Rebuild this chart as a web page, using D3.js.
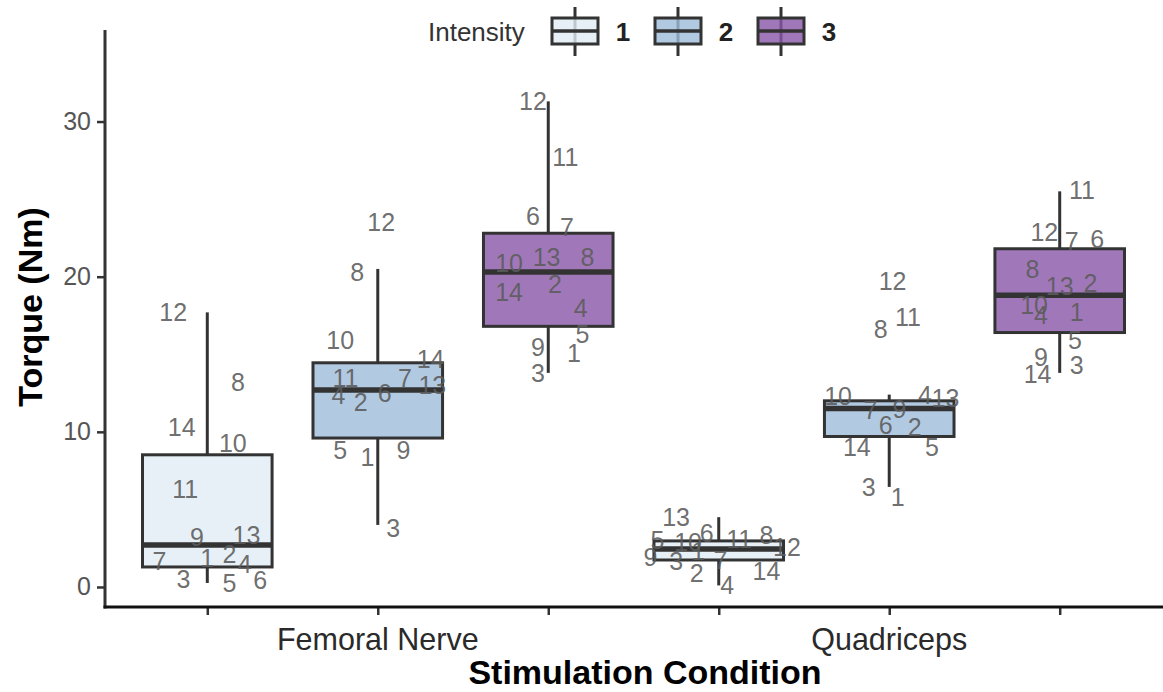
<!DOCTYPE html>
<html>
<head>
<meta charset="utf-8">
<script src="https://cdn.jsdelivr.net/npm/d3@7"></script>
<style>
  html, body { margin: 0; padding: 0; background: #fff; }
  svg { display: block; font-family: "Liberation Sans", Arial, Helvetica, sans-serif; }
</style>
</head>
<body>
<svg id="chart" width="1163" height="692"></svg>
<script>
// ---------- data ----------
const conditions = ["Femoral Nerve", "Quadriceps"];
const intensities = ["1", "2", "3"];
const subjects = ["1","2","3","4","5","6","7","8","9","10","11","12","13","14"];
const yTicks = [0, 10, 20, 30];

// box statistics per group (Femoral Nerve 1..3, Quadriceps 1..3)
const boxLow    = [0.26, 4.0, 13.8, 0.1, 6.45, 13.8];
const boxQ1     = [1.29, 9.6, 16.8, 1.74, 9.7, 16.4];
const boxMedian = [2.71, 12.7, 20.3, 2.45, 11.5, 18.8];
const boxQ3     = [8.52, 14.45, 22.8, 2.97, 12.0, 21.8];
const boxHigh   = [17.7, 20.5, 31.3, 4.5, 12.4, 25.5];

// subject torque values (subjects 1..14)
const femoral1 = [1.9, 2.1, 0.5, 1.5, 0.26, 0.45, 1.7, 13.2, 3.2, 9.3, 6.3, 17.7, 3.35, 10.3];
const femoral2 = [8.4, 11.9, 3.8, 12.4, 8.8, 12.5, 13.5, 20.3, 8.8, 15.9, 13.5, 23.5, 13.0, 14.7];
const femoral3 = [15.1, 19.5, 13.8, 18.0, 16.3, 23.9, 23.2, 21.3, 15.5, 20.9, 27.7, 31.3, 21.3, 19.0];
const quad1    = [2.3, 0.9, 1.7, 0.1, 3.0, 3.5, 1.75, 3.35, 1.95, 2.9, 3.1, 2.6, 4.5, 1.0];
const quad2    = [5.8, 10.3, 6.45, 12.4, 9.0, 10.45, 11.4, 16.6, 11.5, 12.3, 17.4, 19.7, 12.2, 9.0];
const quad3    = [17.7, 19.6, 14.3, 17.5, 15.9, 22.4, 22.3, 20.5, 14.8, 18.2, 25.6, 22.9, 19.4, 13.7];

// horizontal jitter of the subject labels (fraction of category step)
const jitFemoral1 = [0.0, 0.13, -0.14, 0.22, 0.13, 0.31, -0.28, 0.18, -0.06, 0.15, -0.13, -0.2, 0.23, -0.15];
const jitFemoral2 = [-0.06, -0.1, 0.09, -0.23, -0.22, 0.04, 0.16, -0.12, 0.15, -0.22, -0.19, 0.02, 0.32, 0.31];
const jitFemoral3 = [0.15, 0.04, -0.06, 0.19, 0.2, -0.09, 0.11, 0.23, -0.06, -0.23, 0.1, -0.09, -0.01, -0.23];
const jitQuad1    = [-0.12, -0.13, -0.25, 0.05, -0.36, -0.07, 0.01, 0.28, -0.4, -0.18, 0.12, 0.4, -0.25, 0.28];
const jitQuad2    = [0.05, 0.15, -0.12, 0.21, 0.25, -0.02, -0.11, -0.05, 0.06, -0.3, 0.11, 0.02, 0.33, -0.19];
const jitQuad3    = [0.1, 0.18, 0.1, -0.11, 0.09, 0.22, 0.07, -0.16, -0.11, -0.15, 0.13, -0.09, 0.0, -0.13];

const fillColors = ["#e0ecf4", "#9ebcda", "#8856a7"];

// ---------- build ----------
const groupValues = [femoral1, femoral2, femoral3, quad1, quad2, quad3];
const groupJitter = [jitFemoral1, jitFemoral2, jitFemoral3, jitQuad1, jitQuad2, jitQuad3];
const groups = [];
conditions.forEach((c, ci) => intensities.forEach((it, ii) => {
  const gi = ci * 3 + ii;
  groups.push({
    id: c + "|" + it, condition: c, intensity: it, ii,
    low: boxLow[gi], q1: boxQ1[gi], median: boxMedian[gi], q3: boxQ3[gi], high: boxHigh[gi],
    labels: subjects.map((s, si) => ({ s, v: groupValues[gi][si], j: groupJitter[gi][si] }))
  });
}));

const svg = d3.select("#chart");
const pLeft = 105, pRight = 1162, pTop = 30, pBottom = 607;

const x = d3.scalePoint().domain(groups.map(g => g.id)).range([pLeft, pRight]).padding(0.6);
const step = x.step();
const boxW = step * 0.76;
const y = d3.scaleLinear().domain([-1.29, 35.9]).range([pBottom, pTop]);
const color = d3.scaleOrdinal().domain(intensities).range(fillColors);

const lineCol = "#333333";

// boxes
const gBox = svg.append("g");
groups.forEach(g => {
  const cx = x(g.id);
  const gg = gBox.append("g");
  gg.append("line").attr("x1", cx).attr("x2", cx).attr("y1", y(g.q3)).attr("y2", y(g.high))
    .attr("stroke", lineCol).attr("stroke-width", 3);
  gg.append("line").attr("x1", cx).attr("x2", cx).attr("y1", y(g.q1)).attr("y2", y(g.low))
    .attr("stroke", lineCol).attr("stroke-width", 3);
  gg.append("rect").attr("x", cx - boxW / 2).attr("width", boxW)
    .attr("y", y(g.q3)).attr("height", y(g.q1) - y(g.q3))
    .attr("fill", color(g.intensity)).attr("fill-opacity", 0.8)
    .attr("stroke", lineCol).attr("stroke-width", 3);
  gg.append("line").attr("x1", cx - boxW / 2).attr("x2", cx + boxW / 2)
    .attr("y1", y(g.median)).attr("y2", y(g.median))
    .attr("stroke", lineCol).attr("stroke-width", 5.5);
});

// subject labels
const gLab = svg.append("g");
groups.forEach(g => {
  gLab.selectAll(null).data(g.labels).enter().append("text")
    .attr("x", d => x(g.id) + d.j * step)
    .attr("y", d => y(d.v))
    .attr("text-anchor", "middle").attr("dominant-baseline", "central")
    .attr("font-size", 25).attr("fill", "#5c5c5c").attr("fill-opacity", 0.9)
    .text(d => d.s);
});

// axes
const yAxis = d3.axisLeft(y).tickValues(yTicks).tickSize(8).tickPadding(6);
const ya = svg.append("g").attr("transform", `translate(${pLeft},0)`).call(yAxis);
ya.select(".domain").remove();
ya.selectAll(".tick line").attr("stroke", lineCol).attr("stroke-width", 2.5);
ya.selectAll(".tick text").attr("font-size", 25).attr("fill", "#555").attr("font-family", "Liberation Sans, Arial, sans-serif");
svg.append("line").attr("x1", pLeft).attr("x2", pLeft).attr("y1", pTop).attr("y2", pBottom + 1.5)
  .attr("stroke", lineCol).attr("stroke-width", 3);

const xAxis = d3.axisBottom(x).tickSize(8).tickFormat(() => "");
const xa = svg.append("g").attr("transform", `translate(0,${pBottom})`).call(xAxis);
xa.select(".domain").remove();
xa.selectAll(".tick line").attr("stroke", lineCol).attr("stroke-width", 2.5);
svg.append("line").attr("x1", pLeft - 1.5).attr("x2", 1163).attr("y1", pBottom).attr("y2", pBottom)
  .attr("stroke", "#111").attr("stroke-width", 3);

// condition labels centred under the middle box of each condition
conditions.forEach((c, ci) => {
  svg.append("text").attr("x", x(c + "|2")).attr("y", 639)
    .attr("text-anchor", "middle").attr("dominant-baseline", "central")
    .attr("font-size", 30.5).attr("fill", "#2a2a2a").text(c);
});

svg.append("text").attr("x", 645).attr("y", 672)
  .attr("text-anchor", "middle").attr("dominant-baseline", "central")
  .attr("font-size", 34).attr("font-weight", "bold").attr("fill", "#000")
  .text("Stimulation Condition");

svg.append("text").attr("transform", "translate(30,307) rotate(-90)")
  .attr("text-anchor", "middle").attr("dominant-baseline", "central")
  .attr("font-size", 34).attr("font-weight", "bold").attr("fill", "#000")
  .text("Torque (Nm)");

// legend
const lg = svg.append("g");
lg.append("text").attr("x", 428).attr("y", 32).attr("dominant-baseline", "central")
  .attr("font-size", 26).attr("fill", "#333").text("Intensity");
const keyX = [552, 655, 758];
intensities.forEach((it, i) => {
  const kx = keyX[i], kw = 46, cx = kx + kw / 2;
  const k = lg.append("g");
  k.append("line").attr("x1", cx).attr("x2", cx).attr("y1", 7).attr("y2", 56)
    .attr("stroke", lineCol).attr("stroke-width", 3);
  k.append("rect").attr("x", kx).attr("y", 18).attr("width", kw).attr("height", 26)
    .attr("fill", color(it)).attr("fill-opacity", 0.8).attr("stroke", lineCol).attr("stroke-width", 3);
  k.append("line").attr("x1", kx).attr("x2", kx + kw).attr("y1", 31).attr("y2", 31)
    .attr("stroke", lineCol).attr("stroke-width", 3.5);
  lg.append("text").attr("x", kx + kw + 25).attr("y", 32)
    .attr("text-anchor", "middle").attr("dominant-baseline", "central")
    .attr("font-size", 26).attr("font-weight", "bold").attr("fill", "#222").text(it);
});
</script>
</body>
</html>
